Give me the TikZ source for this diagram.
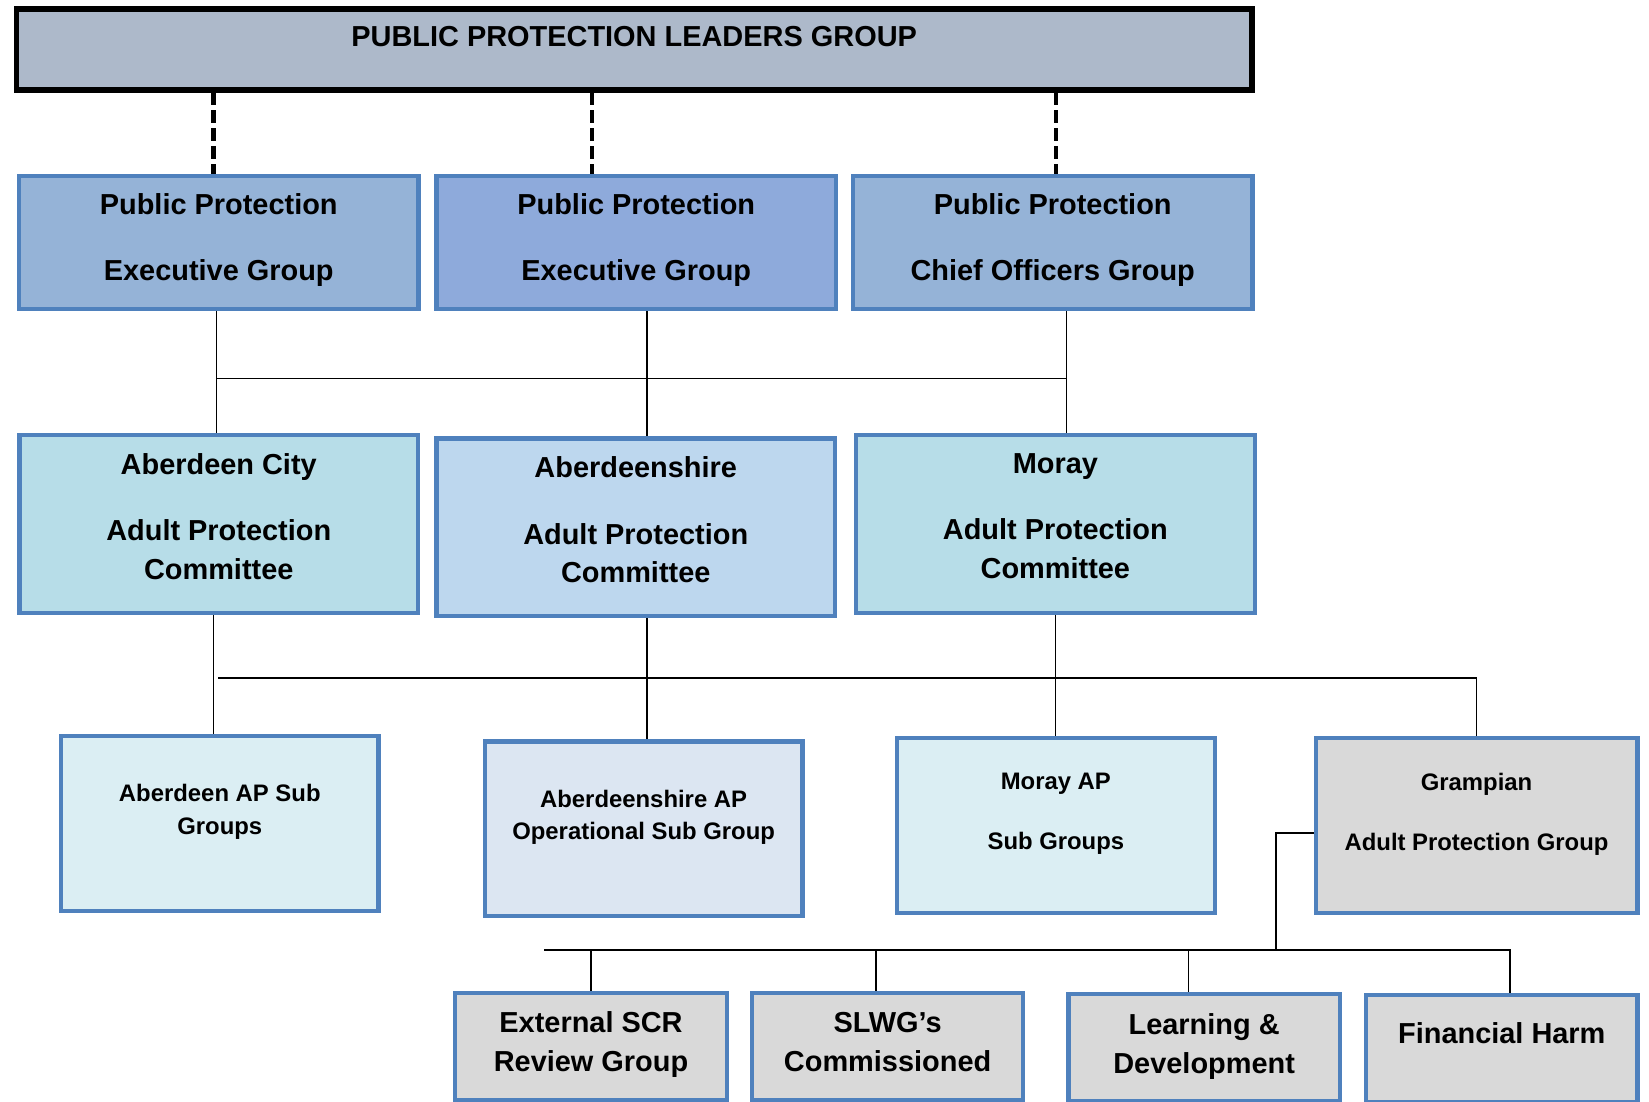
\documentclass[tikz,border=0pt]{standalone}
\usepackage{fontspec}
\setmainfont{Liberation Sans}
\usepackage{xcolor}
\usetikzlibrary{positioning,calc}

\definecolor{boxline}{HTML}{4F81BD}
\definecolor{leadfill}{HTML}{ADB9CA}
\definecolor{execfill}{HTML}{95B3D7}
\definecolor{execmid}{HTML}{8EAADB}
\definecolor{apcfill}{HTML}{B7DDE8}
\definecolor{apcmid}{HTML}{BDD7EE}
\definecolor{subfill}{HTML}{DBEEF3}
\definecolor{submid}{HTML}{DCE6F2}
\definecolor{greyfill}{HTML}{D9D9D9}

\tikzset{
  box/.style={rectangle, draw=boxline, line width=4pt, inner sep=0pt},
  bigtxt/.style={font=\bfseries\fontsize{27.5}{37}\selectfont, align=center},
  smalltxt/.style={font=\bfseries\fontsize{22.7}{31}\selectfont, align=center},
  execbox/.style={box, minimum width=380pt, minimum height=127pt},
  apcbox/.style={box, minimum width=379pt, minimum height=169pt},
  subbox/.style={box, minimum width=302pt, minimum height=166pt},
  workbox/.style={box, fill=greyfill, minimum width=258pt, minimum height=102pt},
  link/.style={line width=1.6pt},
  dashlink/.style={line width=4pt, dash pattern=on 12pt off 5pt},
}

\begin{document}
\begin{tikzpicture}[x=1pt, y=-1pt]

  \useasboundingbox (0,0) rectangle (1568,1047);

  % === Leaders group ===
  \node[box, draw=black, line width=5pt, fill=leadfill, minimum width=1175pt, minimum height=77pt,
    label={[bigtxt, yshift=12pt]center:PUBLIC PROTECTION LEADERS GROUP}] (lead) at (603,47) {};

  % === Executive / chief officers groups ===
  \node[execbox, fill=execfill,
    label={[bigtxt, yshift=2pt]center:{Public Protection\\[26pt]Executive Group}}] (pe1) at (208,230.5) {};
  \node[execbox, fill=execmid,
    label={[bigtxt, yshift=2pt]center:{Public Protection\\[26pt]Executive Group}}] (pe2) at (605,230.5) {};
  \node[execbox, fill=execfill,
    label={[bigtxt, yshift=2pt]center:{Public Protection\\[26pt]Chief Officers Group}}] (pe3) at (1001,230.5) {};

  % === Adult protection committees ===
  \node[apcbox, fill=apcfill,
    label={[bigtxt, yshift=7pt]center:{Aberdeen City\\[26pt]Adult Protection\\Committee}}] (apc1) at (208,498.5) {};
  \node[apcbox, fill=apcmid,
    label={[bigtxt, yshift=7pt]center:{Aberdeenshire\\[26pt]Adult Protection\\Committee}}] (apc2) at (604.5,501.5) {};
  \node[apcbox, fill=apcfill,
    label={[bigtxt, yshift=8pt]center:{Moray\\[26pt]Adult Protection\\Committee}}] (apc3) at (1003.5,498.5) {};

  % === Sub groups ===
  \node[subbox, fill=subfill,
    label={[smalltxt, yshift=11pt]center:{Aberdeen AP Sub\\Groups}}] (sub1) at (209,783) {};
  \node[subbox, fill=submid,
    label={[smalltxt, yshift=11pt]center:{Aberdeenshire AP\\Operational Sub Group}}] (sub2) at (612,788) {};
  \node[subbox, fill=subfill,
    label={[smalltxt, yshift=11pt]center:{Moray AP\\[26pt]Sub Groups}}] (sub3) at (1004,785) {};
  \node[subbox, fill=greyfill, minimum width=306pt,
    label={[smalltxt, yshift=11pt]center:{Grampian\\[26pt]Adult Protection Group}}] (gap) at (1404,785) {};

  % === Grampian working groups ===
  \node[workbox, label={[bigtxt, yshift=1.5pt]center:{External SCR\\Review Group}}] (scr) at (562,995) {};
  \node[workbox, label={[bigtxt, yshift=4.5pt]center:{SLWG’s\\Commissioned}}] (slwg) at (844,995) {};
  \node[workbox, label={[bigtxt, yshift=1pt]center:{Learning \&\\Development}}] (learn) at (1145,996) {};
  \node[workbox, label={[bigtxt, yshift=15pt]center:Financial Harm}] (harm) at (1428,997) {};

  % === Dashed links to the leaders group ===
  \draw[dashlink] ([xshift=-5pt]pe1.north |- lead.south) -- ([xshift=-5pt]pe1.north);
  \draw[dashlink] ([xshift=-42pt]pe2.north |- lead.south) -- ([xshift=-42pt]pe2.north);
  \draw[dashlink] ([xshift=3pt]pe3.north |- lead.south) -- ([xshift=3pt]pe3.north);

  % === Executive -> committees ===
  \coordinate (busA) at (0,360);
  \draw[link] ([xshift=-2pt]pe1.south) -- ([xshift=-2pt]pe1.south |- apc1.north);
  \draw[link] ([xshift=10pt]pe2.south) -- ([xshift=10pt]pe2.south |- apc2.north);
  \draw[link] ([xshift=13pt]pe3.south) -- ([xshift=13pt]pe3.south |- apc3.north);
  \draw[link] ([xshift=-2pt]pe1.south |- busA) -- ([xshift=13pt]pe3.south |- busA);

  % === Committees -> sub groups ===
  \coordinate (busB) at (207,645);
  \draw[link] ([xshift=-5pt]apc1.south) -- ([xshift=-5pt]apc1.south |- sub1.north);
  \draw[link] ([xshift=10.5pt]apc2.south) -- ([xshift=10.5pt]apc2.south |- sub2.north);
  \draw[link] (apc3.south) -- (apc3.south |- sub3.north);
  \draw[link] (gap.north) |- (busB);

  % === Grampian group -> working groups ===
  \coordinate (fork) at (1213,903);
  \coordinate (busC) at (517,903);
  \draw[link] ([yshift=-7pt]gap.west) -| (fork);
  \draw[link] ([xshift=8pt]harm.north) |- (busC);
  \draw[link] (scr.north) -- (scr.north |- busC);
  \draw[link] ([xshift=-11pt]slwg.north) -- ([xshift=-11pt]slwg.north |- busC);
  \draw[link] ([xshift=-15pt]learn.north) -- ([xshift=-15pt]learn.north |- busC);

\end{tikzpicture}
\end{document}
